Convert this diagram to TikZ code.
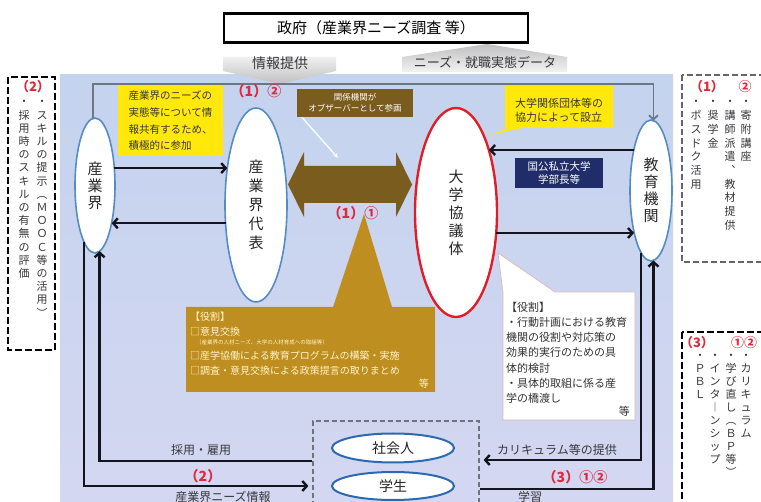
\documentclass[tikz,border=0pt]{standalone}
\usepackage{fontspec}
\setmainfont{Noto Sans CJK JP}
\usetikzlibrary{arrows.meta,shapes.geometric,calc}
\definecolor{panelT}{RGB}{196,211,238}
\definecolor{panelB}{RGB}{212,215,241}
\definecolor{ellblue}{RGB}{85,140,195}
\definecolor{sblue}{RGB}{45,105,175}
\definecolor{ellred}{RGB}{225,30,40}
\definecolor{arrowblk}{RGB}{20,20,30}
\definecolor{glinec}{RGB}{110,118,132}
\definecolor{labred}{RGB}{225,40,60}
\definecolor{brownD}{RGB}{122,92,30}
\definecolor{goldC}{RGB}{190,142,32}
\definecolor{goldT}{RGB}{255,244,200}
\definecolor{navyC}{RGB}{32,45,105}
\definecolor{yel}{RGB}{255,232,10}
\definecolor{txtg}{RGB}{55,55,60}
\definecolor{cborder}{RGB}{215,185,185}
\definecolor{sboxc}{RGB}{110,115,125}
\newcommand{\vsx}{\vphantom{国}}
\begin{document}
\begin{tikzpicture}[x=1pt,y=-1pt,
  arr/.style={draw=arrowblk,line width=2.4pt,-{Straight Barb[length=4.5pt,width=10pt]}},
  gline/.style={draw=glinec,line width=1.8pt,-{Straight Barb[length=4pt,width=9pt]}},
  ell/.style={ellipse,draw=ellblue,line width=1.6pt,fill=white,inner sep=0pt,outer sep=0pt,align=center,text=black!85},
  vcol/.style={anchor=north,align=center,inner sep=0pt,text=txtg,font=\fontsize{11}{13.2}\selectfont},
  vcolb/.style={anchor=north,align=center,inner sep=0pt,text=txtg,font=\fontsize{11}{13.7}\selectfont},
  redlab/.style={inner sep=0pt,text=labred,font=\bfseries\fontsize{14}{14}\selectfont},
  boxlab/.style={inner sep=0pt,text=labred,font=\bfseries\fontsize{13}{13}\selectfont},
  lab/.style={inner sep=0pt,text=txtg,font=\fontsize{12}{12}\selectfont},
  goldtxt/.style={anchor=west,inner sep=0pt,text=goldT,font=\fontsize{10}{10}\selectfont}
]
\useasboundingbox (0,0) rectangle (761,502);
\clip (0,0) rectangle (761,502);

% panel
\shade[top color=panelT,bottom color=panelB] (60,75) rectangle (673,502);

% top gray arrows
\shade[top color=gray!12,bottom color=gray!50] (223,57) -- (336,57) -- (336,71) -- (280,84) -- (223,71) -- cycle;
\shade[top color=gray!50,bottom color=gray!10] (402,72) -- (402,57) -- (487,44) -- (567,57) -- (567,72) -- cycle;
\node[inner sep=0,text=txtg,font=\fontsize{14}{14}\selectfont] (joho) at (280,63) {情報提供};
\node[inner sep=0,text=txtg,font=\fontsize{13}{13}\selectfont] (needs) at (485,62) {ニーズ・就職実態データ};

% government
\node[draw=black,line width=2.6pt,fill=white,minimum width=304,minimum height=29,inner sep=0,font=\fontsize{15}{15}\selectfont] (gov) at (376,28) {政府（産業界ニーズ調査 等）};

% yellow callouts
\node[fill=yel,anchor=north west,minimum width=105,minimum height=71,inner sep=0,align=left,text=txtg,font=\fontsize{10.5}{16.7}\selectfont] (y1) at (118,85) {産業界のニーズの\\実態等について情\\報共有するため、\\積極的に参加};
\fill[yel] (505,86) -- (613,86) -- (613,128) -- (522,128) -- (490,135) -- (508,128) -- (505,128) -- cycle;
\node[align=left,inner sep=0,text=txtg,font=\fontsize{11}{14}\selectfont] (y2) at (559,110) {大学関係団体等の\\協力によって設立};

% navy box
\node[fill=navyC,minimum width=88,minimum height=30,inner sep=0,align=center,text=white,font=\fontsize{10.5}{12.5}\selectfont] (navybox) at (559,173) {国公私立大学\\学部長等};

% gold callout
\fill[goldC] (186,307) -- (333,307) -- (364,214) -- (392,307) -- (435,307) -- (435,392) -- (186,392) -- cycle;
\node[goldtxt] (br1) at (190,317) {【役割】};
\node[goldtxt] (br2) at (190,332) {□意見交換};
\node[goldtxt,font=\fontsize{5.5}{5.5}\selectfont] (br3) at (196,342) {（産業界の人材ニーズ、大学の人材育成への取組等）};
\node[goldtxt] (br4) at (190,356) {□産学協働による教育プログラムの構築・実施};
\node[goldtxt] (br5) at (190,371) {□調査・意見交換による政策提言の取りまとめ};
\node[goldtxt,anchor=east] (br6) at (429,384) {等};

% white callout
\filldraw[draw=cborder,fill=white,line width=0.7pt] (503,292) -- (498,253) -- (555,292) -- (635,292) -- (635,420) -- (503,420) -- cycle;
\node[anchor=north west,align=left,inner sep=0,text=black!80,font=\fontsize{11}{15.3}\selectfont] (wtext) at (506,301.5) {\vsx【役割】\\・行動計画における教育\\機関の役割や対応策の\\効果的実行のための具\\体的検討\\・具体的取組に係る産\\学の橋渡し};
\node[anchor=east,inner sep=0,text=black!80,font=\fontsize{11}{11}\selectfont] (wtou) at (630,411) {等};

% ellipses
\node[ell,minimum width=40,minimum height=135,font=\fontsize{15}{17}\selectfont] (sangyo) at (95,185.5) {産\\業\\界};
\node[ell,minimum width=62,minimum height=194,font=\fontsize{15}{19}\selectfont] (rep) at (256,205) {産\\業\\界\\代\\表};
\node[ell,draw=ellred,line width=2.4pt,minimum width=82,minimum height=209,font=\fontsize{15}{18}\selectfont] (daigaku) at (456,212.5) {大\\学\\協\\議\\体};
\node[ell,minimum width=42,minimum height=141,font=\fontsize{15}{17}\selectfont] (kyoiku) at (651,190.5) {教\\育\\機\\関};

% gray top connector
\draw[gline] (sangyo.92) |- (kyoiku.88 |- 0,84) -- (kyoiku.88);

% brown double arrow and observer box
\fill[brownD] (288,184.5) -- (304,152) -- (304,166) -- (396,166) -- (396,152) -- (412,184.5) -- (396,217) -- (396,203) -- (304,203) -- (304,217) -- cycle;
\node[fill=brownD,minimum width=116,minimum height=28,inner sep=0,align=center,text=white,font=\fontsize{8.5}{11}\selectfont] (obs) at (355,103) {関係機関が\\オブザーバーとして参画};
\coordinate (wtip) at (338,158);
\draw[white,line width=1.3pt,-{Stealth[length=5pt,width=4pt]}] ([xshift=5pt]obs.south west) -- (wtip);

% arrows between ellipses
\draw[arr] (sangyo.42) -- (sangyo.42 -| rep.128);
\draw[arr] (rep.211) -- (rep.211 -| sangyo.294);
\draw[arr] (kyoiku.113) -- (kyoiku.113 -| daigaku.62);
\draw[arr] (daigaku.333) -- (daigaku.333 -| kyoiku.248);

% students box
\node[draw=sboxc,dash pattern=on 5pt off 3pt,line width=1.2pt,minimum width=166,minimum height=100,inner sep=0] (sbox) at (396,471) {};
\node[ell,draw=sblue,line width=2pt,minimum width=122,minimum height=29,font=\fontsize{14}{14}\selectfont] (shakai) at (393,448) {社会人};
\node[ell,draw=sblue,line width=2pt,minimum width=122,minimum height=28,font=\fontsize{14}{14}\selectfont] (gakusei) at (393,486) {学生};

% bottom connectors
\coordinate (nTip) at ($(sbox.west |- 0,486)+(-4,0)$);
\draw[arr] (sangyo.259) |- (nTip);
\draw[arr] (sbox.west |- 0,461) -| (sangyo.274);
\coordinate (cTip) at ($(sbox.east |- 0,460)+(4,0)$);
\draw[arr] (kyoiku.261) |- (cTip);
\draw[arr] (sbox.east |- 0,489) -| (kyoiku.272);

\node[lab] (lsaiyo) at (201,450) {採用・雇用};
\node[redlab] (l2) at (203,476) {（2）};
\node[lab] (lneeds) at (223,497) {産業界ニーズ情報};
\node[lab] (lcurr) at (557,450) {カリキュラム等の提供};
\node[redlab] (l3) at (575,477) {（3）①②};
\node[lab] (lgaku) at (530,497) {学習};

% red labels
\node[redlab] (l12) at (256,91) {（1）②};
\node[redlab] (l11) at (353,213) {（1）①};

% left dashed box
\draw[black,line width=2.5pt,dash pattern=on 7pt off 3pt] (8,77) rectangle (55,350);
\node[boxlab] (lb2) at (33,87) {（2）};
\node[vcol] (lc1) at (42,97) {\vsx・\\ス\\キ\\ル\\の\\提\\示\\︵\\Ｍ\\Ｏ\\Ｏ\\Ｃ\\等\\の\\活\\用\\︶};
\node[vcol] (lc2) at (24,97) {\vsx・\\採\\用\\時\\の\\ス\\キ\\ル\\の\\有\\無\\の\\評\\価};

% right top dashed box
\draw[draw=gray!80!black,line width=1.5pt,dash pattern=on 6pt off 3pt] (682,75) rectangle (775,262);
\node[boxlab] (rt1) at (707,87) {（1）};
\node[boxlab] (rt2) at (745,87) {②};
\node[vcolb] (rc1) at (746,97) {\vsx・\\寄\\附\\講\\座};
\node[vcolb] (rc2) at (730,97) {\vsx・\\講\\師\\派\\遣\\︑\\教\\材\\提\\供};
\node[vcolb] (rc3) at (713,97) {\vsx・\\奨\\学\\金};
\node[vcolb] (rc4) at (696,97) {\vsx・\\ポ\\ス\\ド\\ク\\活\\用};

% right bottom dashed box
\draw[black,line width=2.5pt,dash pattern=on 7pt off 3pt] (682,332) rectangle (775,515);
\node[boxlab] (rb1) at (697,343) {（3）};
\node[boxlab] (rb2) at (744,343) {①②};
\node[vcol,font=\fontsize{11}{13}\selectfont] (bc1) at (746,351) {\vsx・\\カ\\リ\\キ\\ュ\\ラ\\ム};
\node[vcol,font=\fontsize{11}{13}\selectfont] (bc2) at (731,351) {\vsx・\\学\\び\\直\\し\\︵\\Ｂ\\Ｐ\\等\\︶};
\node[vcol,font=\fontsize{11}{13}\selectfont] (bc3) at (715,351) {\vsx・\\イ\\ン\\タ\\︱\\ン\\シ\\ッ\\プ};
\node[vcol,font=\fontsize{11}{13}\selectfont] (bc4) at (700,351) {\vsx・\\Ｐ\\Ｂ\\Ｌ};
\end{tikzpicture}
\end{document}
